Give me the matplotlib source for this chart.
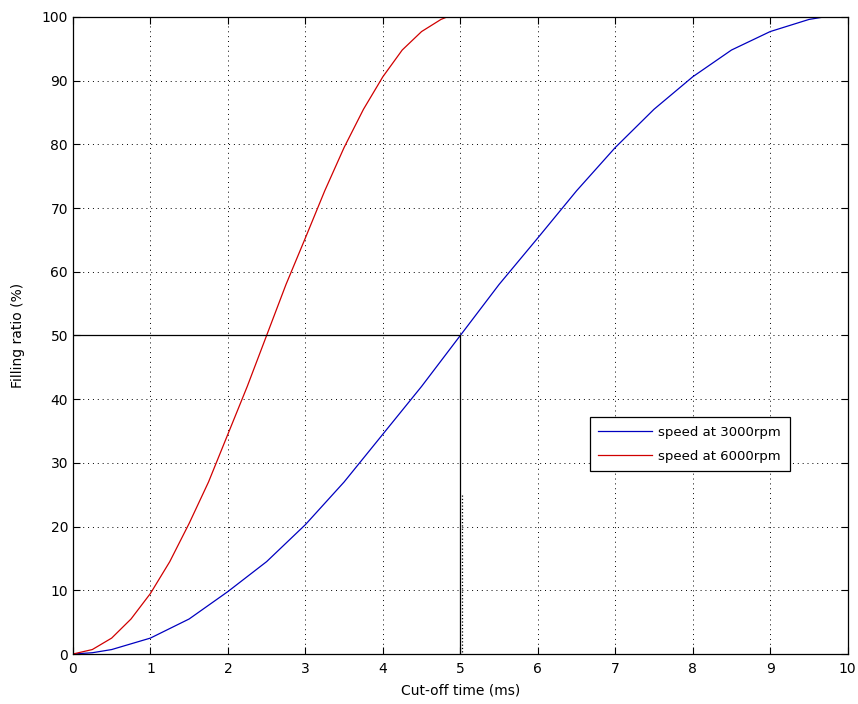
import matplotlib
matplotlib.use("Agg")
import matplotlib.pyplot as plt

# values (cut-off time in ms, filling ratio in %)
t_3000 = [0, 0.25, 0.5, 1, 1.5, 2, 2.5, 3, 3.5, 4, 4.5, 5, 5.5, 6, 6.5, 7, 7.5, 8, 8.5, 9, 9.5, 9.7]
fill_3000 = [0, 0.2, 0.7, 2.5, 5.5, 9.8, 14.5, 20.3, 27, 34.5, 42, 50, 58, 65.3, 72.7, 79.5, 85.5, 90.6, 94.8, 97.7, 99.6, 100]
t_6000 = [0, 0.25, 0.5, 0.75, 1, 1.25, 1.5, 1.75, 2, 2.25, 2.5, 2.75, 3, 3.25, 3.5, 3.75, 4, 4.25, 4.5, 4.75, 4.83, 4.9]
fill_6000 = [0, 0.7, 2.5, 5.5, 9.5, 14.5, 20.5, 27, 34.5, 42, 50, 58, 65.3, 72.7, 79.5, 85.5, 90.6, 94.8, 97.7, 99.6, 100, 100]

x_ticks = list(range(0, 11))
y_ticks = list(range(0, 101, 10))
mark_t, mark_fill = 5, 50

plt.rcParams["font.family"] = ["DejaVu Sans"]
fig = plt.figure(figsize=(8.58, 7.04), dpi=100)
ax = fig.add_axes([0.085, 0.071, 0.903, 0.905])

ax.plot(t_3000, fill_3000, color="#0000c0", lw=0.9, label="speed at 3000rpm")
ax.plot(t_6000, fill_6000, color="#d00000", lw=0.9, label="speed at 6000rpm")

# marker lines at 5 ms / 50 %
ax.plot([0, mark_t], [mark_fill, mark_fill], color="black", lw=0.9)
ax.plot([mark_t, mark_t], [mark_fill, 0], color="black", lw=0.9)
ax.plot([mark_t + 0.02, mark_t + 0.02], [25, 0], color="black", lw=0.9, ls=":")

ax.set_xlim(0, 10)
ax.set_ylim(0, 100)
ax.set_xticks(x_ticks)
ax.set_yticks(y_ticks)
ax.grid(True, color="black", ls=(0, (1, 4)), lw=0.7)
ax.tick_params(direction="in", top=True, right=True, length=5, labelsize=10)
ax.tick_params(axis="x", pad=6)
for s in ax.spines.values():
    s.set_linewidth(0.9)

ax.set_xlabel("Cut-off time (ms)", fontsize=10, labelpad=5)
ax.set_ylabel("Filling ratio (%)", fontsize=10, labelpad=12)

leg = ax.legend(loc="upper left", bbox_to_anchor=(0.667, 0.372), fontsize=9.5,
                frameon=True, fancybox=False, edgecolor="black", framealpha=1,
                handlelength=4.1, handletextpad=0.45, borderpad=0.65,
                labelspacing=0.85, borderaxespad=0)
leg.get_frame().set_linewidth(0.9)

fig.savefig("out.png", dpi=100)
